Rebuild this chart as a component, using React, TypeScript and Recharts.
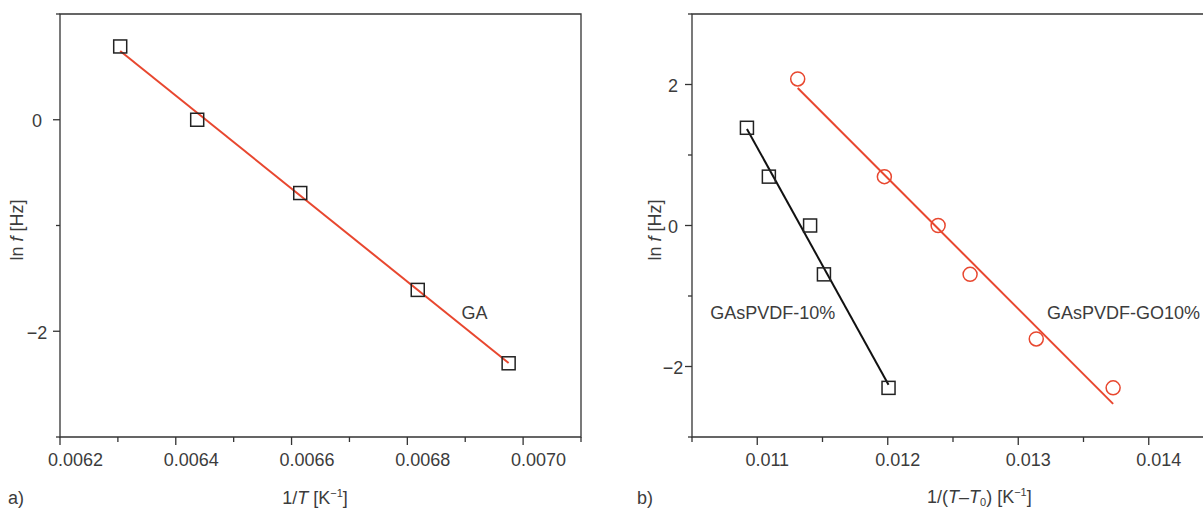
import React from "react"
import { ScatterChart, Scatter, XAxis, YAxis, ReferenceArea, ReferenceDot } from "recharts"

const RED = "#e8472f"
const INK = "#3c3c3c"
const AXIS = "#333333"
const FONT = '"Liberation Sans", Arial, sans-serif'

// a) GA
const gaX = [0.006304, 0.006437, 0.006615, 0.006818, 0.006975]
const gaY = [0.693, 0, -0.693, -1.609, -2.303]
const gaFitX = [0.006304, 0.006975]
const gaFitY = [0.65, -2.3]

// b) GAsPVDF-10% and GAsPVDF-GO10%
const pvdfX = [0.010921, 0.011089, 0.011405, 0.011511, 0.012006]
const pvdfY = [1.386, 0.693, 0, -0.693, -2.303]
const pvdfFitX = [0.010921, 0.012006]
const pvdfFitY = [1.37, -2.26]
const goX = [0.01131, 0.011974, 0.012386, 0.012631, 0.013138, 0.013727]
const goY = [2.079, 0.693, 0, -0.693, -1.609, -2.303]
const goFitX = [0.01131, 0.013727]
const goFitY = [1.95, -2.53]

// ticks
const xTicksA = [0.0062, 0.0063, 0.0064, 0.0065, 0.0066, 0.0067, 0.0068, 0.0069, 0.007, 0.0071]
const xMajorA = [0.0062, 0.0064, 0.0066, 0.0068, 0.007]
const xLabelA = ["0.0062", "0.0064", "0.0066", "0.0068", "0.0070"]
const yTicksA = [-3, -2, -1, 0, 1]
const yMajorA = [-2, 0]
const yLabelA = ["\u22122", "0"]

const xTicksB = [0.0105, 0.011, 0.0115, 0.012, 0.0125, 0.013, 0.0135, 0.014, 0.0145]
const xMajorB = [0.011, 0.012, 0.013, 0.014]
const xLabelB = ["0.011", "0.012", "0.013", "0.014"]
const yTicksB = [-3, -2, -1, 0, 1, 2, 3]
const yMajorB = [-2, 0, 2]
const yLabelB = ["\u22122", "0", "2"]

const pts = (xs: number[], ys: number[]) => xs.map((x, i) => ({ x, y: ys[i] }))

const findMajor = (majors: number[], v: number) => majors.findIndex((m) => Math.abs(m - v) < 1e-9)

// labels in the original sit a little right of their ticks
function XTick(props: any) {
  const { x, y, payload, majors, labels, shift } = props
  const i = findMajor(majors, payload.value)
  return (
    <g>
      <line x1={x} x2={x} y1={y} y2={y + (i >= 0 ? 8 : 5)} stroke={AXIS} strokeWidth={1.3} />
      {i >= 0 && (
        <text x={x + shift} y={y + 22.5} dy="0.35em" textAnchor="middle" fill={INK} fontSize={18} fontFamily={FONT}>
          {labels[i]}
        </text>
      )}
    </g>
  )
}

function YTick(props: any) {
  const { x, y, payload, majors, labels, off } = props
  const i = findMajor(majors, payload.value)
  return (
    <g>
      <line x1={x} x2={x - (i >= 0 ? 7 : 4)} y1={y} y2={y} stroke={AXIS} strokeWidth={1.3} />
      {i >= 0 && (
        <text x={x - off} y={y + 1} dy="0.35em" textAnchor="middle" fill={INK} fontSize={18} fontFamily={FONT}>
          {labels[i]}
        </text>
      )}
    </g>
  )
}

const Square = (p: any) => (
  <rect x={p.cx - 6.5} y={p.cy - 6.5} width={13} height={13} fill="none" stroke="#222" strokeWidth={1.5} />
)
const Ring = (p: any) => <circle cx={p.cx} cy={p.cy} r={7} fill="none" stroke={RED} strokeWidth={1.5} />
const NoDot = () => <g />

const labelStyle = { fill: INK, fontSize: 18, fontFamily: FONT }

const txt: React.CSSProperties = {
  position: "absolute",
  fontFamily: FONT,
  fontSize: 18,
  color: INK,
  whiteSpace: "nowrap",
  lineHeight: 1,
}
const sup: React.CSSProperties = { fontSize: 11, lineHeight: 0 }
const sub: React.CSSProperties = { fontSize: 11, lineHeight: 0, verticalAlign: "-3px" }

export default function App() {
  return (
    <div
      style={{ position: "fixed", left: 0, top: 0, width: 1203, height: 509, overflow: "hidden", background: "#fff" }}
    >
      <div style={{ position: "absolute", left: 0, top: 0 }}>
        <ScatterChart width={600} height={509} margin={{ top: 14, right: 19, bottom: 42, left: 10 }}>
          <XAxis
            type="number"
            dataKey="x"
            domain={[0.0062, 0.0071]}
            ticks={xTicksA}
            interval={0}
            allowDataOverflow
            axisLine={false}
            tickLine={false}
            tickSize={0}
            tickMargin={0}
            height={30}
            tick={(p: any) => <XTick {...p} majors={xMajorA} labels={xLabelA} shift={15.5} />}
          />
          <YAxis
            type="number"
            dataKey="y"
            domain={[-3, 1]}
            ticks={yTicksA}
            interval={0}
            allowDataOverflow
            axisLine={false}
            tickLine={false}
            tickSize={0}
            tickMargin={0}
            width={50}
            tick={(p: any) => <YTick {...p} majors={yMajorA} labels={yLabelA} off={23} />}
          />
          <ReferenceArea x1={0.0062} x2={0.0071} y1={-3} y2={1} fill="none" stroke={AXIS} strokeWidth={1.3} />
          <Scatter data={pts(gaFitX, gaFitY)} line={{ stroke: RED, strokeWidth: 2 }} shape={NoDot} isAnimationActive={false} />
          <Scatter data={pts(gaX, gaY)} shape={Square} isAnimationActive={false} />
          <ReferenceDot x={0.006916} y={-1.82} r={0} fill="none" stroke="none" label={{ value: "GA", position: "center", ...labelStyle }} />
        </ScatterChart>
      </div>

      <div style={{ position: "absolute", left: 600, top: 0 }}>
        <ScatterChart width={640} height={509} margin={{ top: 14, right: 26, bottom: 42, left: 42 }}>
          <XAxis
            type="number"
            dataKey="x"
            domain={[0.0105, 0.0145]}
            ticks={xTicksB}
            interval={0}
            allowDataOverflow
            axisLine={false}
            tickLine={false}
            tickSize={0}
            tickMargin={0}
            height={30}
            tick={(p: any) => <XTick {...p} majors={xMajorB} labels={xLabelB} shift={10} />}
          />
          <YAxis
            type="number"
            dataKey="y"
            domain={[-3, 3]}
            ticks={yTicksB}
            interval={0}
            allowDataOverflow
            axisLine={false}
            tickLine={false}
            tickSize={0}
            tickMargin={0}
            width={50}
            tick={(p: any) => <YTick {...p} majors={yMajorB} labels={yLabelB} off={19} />}
          />
          <ReferenceArea x1={0.0105} x2={0.0145} y1={-3} y2={3} fill="none" stroke={AXIS} strokeWidth={1.3} />
          <Scatter data={pts(pvdfFitX, pvdfFitY)} line={{ stroke: "#111", strokeWidth: 2 }} shape={NoDot} isAnimationActive={false} />
          <Scatter data={pts(goFitX, goFitY)} line={{ stroke: RED, strokeWidth: 2 }} shape={NoDot} isAnimationActive={false} />
          <Scatter data={pts(pvdfX, pvdfY)} shape={Square} isAnimationActive={false} />
          <Scatter data={pts(goX, goY)} shape={Ring} isAnimationActive={false} />
          <ReferenceDot x={0.011118} y={-1.24} r={0} fill="none" stroke="none" label={{ value: "GAsPVDF-10%", position: "center", ...labelStyle }} />
          <ReferenceDot x={0.01322} y={-1.24} r={0} fill="none" stroke="none" label={{ value: "GAsPVDF-GO10%", position: "right", offset: 0, ...labelStyle }} />
        </ScatterChart>
      </div>

      <div style={{ ...txt, left: 17, top: 230, transform: "translate(-50%, -50%) rotate(-90deg)" }}>
        ln <i>f</i> [Hz]
      </div>
      <div style={{ ...txt, left: 655, top: 230, transform: "translate(-50%, -50%) rotate(-90deg)" }}>
        ln <i>f</i> [Hz]
      </div>
      <div style={{ ...txt, left: 315, top: 489 }}>
        <span style={{ position: "relative", left: "-50%" }}>
          1/<i>T</i> [K<sup style={sup}>{"\u22121"}</sup>]
        </span>
      </div>
      <div style={{ ...txt, left: 927, top: 488 }}>
        1/(<i>T</i>{"\u2013"}<i>T</i>
        <sub style={sub}>0</sub>) [K<sup style={sup}>{"\u22121"}</sup>]
      </div>
      <div style={{ ...txt, left: 8, top: 489 }}>a)</div>
      <div style={{ ...txt, left: 637, top: 489 }}>b)</div>
    </div>
  )
}
